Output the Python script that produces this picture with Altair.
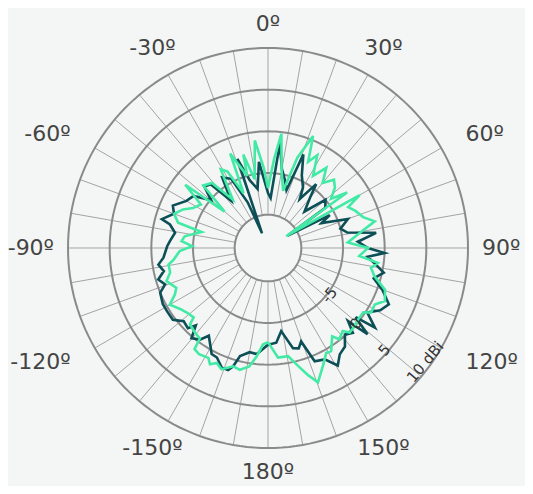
import altair as alt
import pandas as pd

# ---------------- data (gain in dBi, angle in degrees clockwise from top) -------------
dark_theta = [-180, -174, -170, -165.5, -163.6, -161.9, -158.9, -155, -152, -146, -143.4,
              -139.7, -137, -135, -131, -127, -122, -118, -112.5, -109.5, -106, -102.5,
              -98.6, -95.3, -89, -86, -80.7, -76.5, -74.8, -70, -66, -60, -55, -50, -46,
              -42, -38, -33, -28, -24, -22, -19, -15, -10, -6, 0, 3, 6.5, 10, 14, 17.7,
              20.7, 25, 30, 33, 37, 40, 45, 50, 55, 58, 62, 65, 70, 75, 79, 82, 86, 90,
              92.5, 95, 99.4, 102, 106, 110, 115, 119, 123, 126.7, 128.3, 130.9, 132.4,
              135, 138.4, 142, 146, 149.3, 153, 157.6, 160.5, 163, 166, 171, 175, 180]
dark_gain = [-2.4, -1.2, -1.3, -0.6, 0.8, 1.4, 1.4, 0.5, 0.4, -1.3, -0.3,
             0.2, -1.3, -0.4, -0.6, 0.3, 0.3, 0.3, 0.0, -0.9, -0.3, -1.2,
             -0.7, -1.4, -1.9, -2.2, -2.7, -1.9, -0.8, -2.0, -1.5, -2.7, -3.1, -5.1, -3.4,
             -3.7, -6.8, -3.9, -4.6, -8.0, -12.1, -2.7, -5.6, -6.8, -3.6, -7.4, -8.0, -1.3, -4.4, -5.6, -6.7,
             -2.0, -4.4, -5.6, -7.0, -4.4, -6.2, -7.8, -5.0, -5.6, -11.2, -5.6, -6.9, -3.8, -5.0, -4.3, -0.9, -3.2, -2.0,
             0.0, -2.0, -0.7, 0.2, -0.8, 0.6, 2.0, 1.4, 0.2, 2.0, -0.6, 1.8, -1.0,
             0.4, -0.1, 1.0, 1.4, 2.4, 1.0, 0.7, -2.1, -1.4, -1.6, -3.9, -2.6, -2.4]

mint_theta = [-180, -177, -174, -171, -167, -163.6, -159, -156, -153.5, -151.5, -147, -144,
              -143, -139, -134.4, -133, -129, -125, -120, -116.6, -113.5, -108, -104, -99.4,
              -97, -92, -88.6, -85.5, -82, -76.5, -74.3, -70, -65.6, -62, -57, -52.6, -50,
              -46, -40.8, -36, -31, -28, -24, -21.8, -20, -16, -14.8, -11, -7, -3, 0, 4,
              6.7, 10, 14.8, 18, 21.9, 25, 28, 32, 36, 40, 44, 48, 52, 55, 57, 60, 63, 67,
              72, 76, 80, 86, 90, 95, 97.7, 101, 104.8, 109.6, 114.4, 117.9, 122, 124,
              128.5, 132, 136, 138, 142, 144, 148.5, 151, 155, 159.6, 162.5, 165.7, 169.5,
              174.8, 180]
mint_gain = [-2.7, -2.4, -0.9, 0.4, 1.0, 0.8, 1.6, 1.1, 1.6, 1.0, 1.2, 1.0,
             -0.4, -0.6, -0.9, -1.8, -1.6, -1.2, -0.4, -1.5, -2.0, -1.2, -1.9, -1.9,
             -2.6, -3.4, -4.9, -3.6, -3.9, -5.8, -2.8, -2.0, -2.8, -3.8, -4.4, -1.5, -7.2,
             -3.2, -3.7, -6.8, -3.0, -3.6, -6.8, -1.8, -3.1, -5.0, -2.4, -5.6, -1.0, -4.4, -6.8, -3.2,
             -0.2, -4.6, -6.9, -2.6, 0.5, -2.6, -1.4, -3.8, -2.1, -3.8, -2.6, -3.2, -4.4, -2.4, -11.4, -1.3, -3.2, -2.6,
             -2.0, -0.8, -2.6, -4.4, -2.0, -3.0, -0.7, -1.4, -0.8, 0.9, 1.4, 0.5, 0.6, -0.2,
             -0.2, 0.0, 0.1, -0.6, -0.1, -0.9, 0.5, 0.4, 1.6, 3.2, 2.0, 0.6, -0.8,
             -0.8, -2.7]

series_names = ["Trace 1", "Trace 2"]
series_colors = ["#0d4f57", "#42eaa6"]

ring_values = [-10, -5, 0, 5, 10]
spoke_angles = list(range(-180, 180, 10))
angle_ticks = [0, 30, 60, 90, 120, 150, 180, -150, -120, -90, -60, -30]
angle_labels = [f"{a}º" for a in angle_ticks]
radial_ticks = [-5, 0, 5, 10]
radial_labels = ["-5", "0", "5", "10 dBi"]

# ---------------- geometry of the polar frame ---------------------------------------
R_MIN, R_MAX, R_PX = -14.0, 10.0, 200.0
SPAN = R_MAX - R_MIN
FONT = "DejaVu Sans"


def rexpr(field):
    return f"({field} - ({R_MIN})) / {SPAN} * {R_PX}"


TRAD = "datum.theta * PI / 180"
xs = alt.Scale(domain=[-R_PX, R_PX])
ys = alt.Scale(domain=[-R_PX, R_PX])
XE = alt.X("x:Q", scale=xs, axis=None)
YE = alt.Y("y:Q", scale=ys, axis=None)

# traces
rows = []
for name, th, g in [(series_names[0], dark_theta, dark_gain), (series_names[1], mint_theta, mint_gain)]:
    for i, (t, v) in enumerate(zip(th, g)):
        rows.append({"series": name, "theta": t, "gain": v, "idx": i})
traces_df = pd.DataFrame(rows)

# rings (grid)
ring_rows = []
for rv in ring_values:
    for k, a in enumerate(range(0, 361, 2)):
        ring_rows.append({"ring": rv, "theta": a, "idx": k})
rings_df = pd.DataFrame(ring_rows)

spokes_df = pd.DataFrame({"theta": spoke_angles})
alab_df = pd.DataFrame({"theta": angle_ticks, "label": angle_labels})
rlab_df = pd.DataFrame({"tick": radial_ticks, "label": radial_labels})

spokes = alt.Chart(spokes_df).transform_calculate(
    r0=rexpr(str(ring_values[0])), r1=str(R_PX)
).transform_calculate(
    x=f"datum.r0 * sin({TRAD})", y=f"datum.r0 * cos({TRAD})",
    x2=f"datum.r1 * sin({TRAD})", y2=f"datum.r1 * cos({TRAD})",
).mark_rule(color="#a3a3a3", strokeWidth=1).encode(
    x=XE, y=YE, x2="x2:Q", y2="y2:Q",
)

rings = alt.Chart(rings_df).transform_calculate(
    r=rexpr("datum.ring")
).transform_calculate(
    x=f"datum.r * sin({TRAD})", y=f"datum.r * cos({TRAD})"
).mark_line(color="#8a8a8a", strokeWidth=2).encode(
    x=XE, y=YE, detail="ring:N", order="idx:Q",
)

lines = alt.Chart(traces_df).transform_calculate(
    r=rexpr("datum.gain")
).transform_calculate(
    x=f"datum.r * sin({TRAD})", y=f"datum.r * cos({TRAD})"
).mark_line(strokeWidth=2.6, strokeJoin="miter", strokeMiterLimit=4).encode(
    x=XE, y=YE,
    color=alt.Color("series:N", scale=alt.Scale(domain=series_names, range=series_colors), legend=None),
    order="idx:Q",
)

alab_base = alt.Chart(alab_df).transform_calculate(
    s=f"sin({TRAD})", c=f"cos({TRAD})"
)


def angular_layer(filter_expr, dist_expr, align):
    return alab_base.transform_filter(filter_expr).transform_calculate(
        d=dist_expr
    ).transform_calculate(
        x="datum.d * datum.s", y="datum.d * datum.c"
    ).mark_text(font=FONT, fontSize=22, color="#444444",
                align=align, baseline="middle").encode(
        x=XE, y=YE, text="label:N",
    )


a_center = angular_layer("abs(datum.s) < 0.7", "224 + 14 * abs(datum.s)", "center")
a_right = angular_layer("datum.s >= 0.7", "214 + 28 * abs(datum.c)", "left")
a_left = angular_layer("datum.s <= -0.7", "214 + 28 * abs(datum.c)", "right")

rlabels = alt.Chart(rlab_df).transform_calculate(
    theta="133", r=rexpr("0.933 * datum.tick - 0.05")
).transform_calculate(
    x=f"datum.r * sin({TRAD})", y=f"datum.r * cos({TRAD})"
).mark_text(font=FONT, fontSize=15, color="#333333",
            align="left", baseline="middle", angle=310).encode(
    x=XE, y=YE, text="label:N",
)

chart = alt.layer(spokes, rings, lines, a_center, a_right, a_left, rlabels).properties(
    width=400, height=400,
    background="#f4f6f5",
    padding={"left": 60, "top": 40, "right": 57, "bottom": 38},
    autosize=alt.AutoSizeParams(type="none"),
).configure_view(stroke=None)

chart.save("out.html", embed_options={"renderer": "svg", "actions": False})
